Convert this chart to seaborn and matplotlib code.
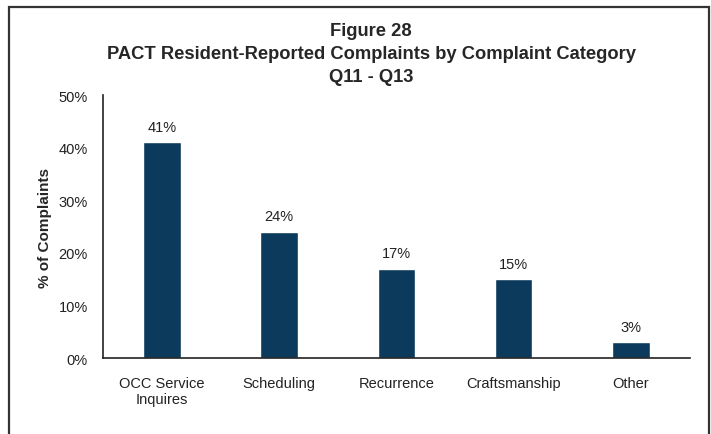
import matplotlib
matplotlib.use('Agg')
import matplotlib.pyplot as plt
import matplotlib.patches as mpatches
from matplotlib.ticker import PercentFormatter
import seaborn as sns
import pandas as pd

categories = ['OCC Service\nInquires', 'Scheduling', 'Recurrence', 'Craftsmanship', 'Other']
values = [41, 24, 17, 15, 3]
bar_labels = ['41%', '24%', '17%', '15%', '3%']
y_ticks = [0, 10, 20, 30, 40, 50]

title_lines = 'Figure 28\nPACT Resident-Reported Complaints by Complaint Category\nQ11 - Q13'

sns.set_style('white')
plt.rcParams['font.family'] = ['Liberation Sans Narrow', 'Liberation Sans', 'DejaVu Sans']

df = pd.DataFrame({'category': categories, 'value': values})

fig = plt.figure(figsize=(7.11, 4.35), dpi=100)
ax = fig.add_axes([0.145, 0.1747, 0.825, 0.6043])

sns.barplot(data=df, x='category', y='value', color='#0b3a5c', saturation=1,
            width=0.32, ax=ax)

for i, (v, lab) in enumerate(zip(values, bar_labels)):
    ax.text(i, v + 1.6, lab, ha='center', va='bottom', fontsize=10.5, color='#222222')

ax.set_ylim(0, 50)
ax.set_xlim(-0.5, len(categories) - 0.5)
ax.set_yticks(y_ticks)
ax.yaxis.set_major_formatter(PercentFormatter(decimals=0))
ax.tick_params(axis='both', labelsize=10.5, length=0, colors='#222222')
ax.tick_params(axis='y', pad=11)
ax.tick_params(axis='x', pad=13)
ax.set_xlabel('')
ax.set_ylabel('% of Complaints', fontsize=11, fontweight='bold', labelpad=5)

for side in ['top', 'right']:
    ax.spines[side].set_visible(False)
for side in ['left', 'bottom']:
    ax.spines[side].set_color('#222222')
    ax.spines[side].set_linewidth(1.2)

fig.text(0.522, 0.947, title_lines, ha='center', va='top', fontsize=13.2,
         fontweight='bold', linespacing=1.45)

border = mpatches.Rectangle((0.0127, -0.05), 0.984, 1.0316, transform=fig.transFigure,
                            fill=False, edgecolor='#333333', linewidth=1.6)
fig.patches.append(border)

fig.savefig('out.png', dpi=100)
